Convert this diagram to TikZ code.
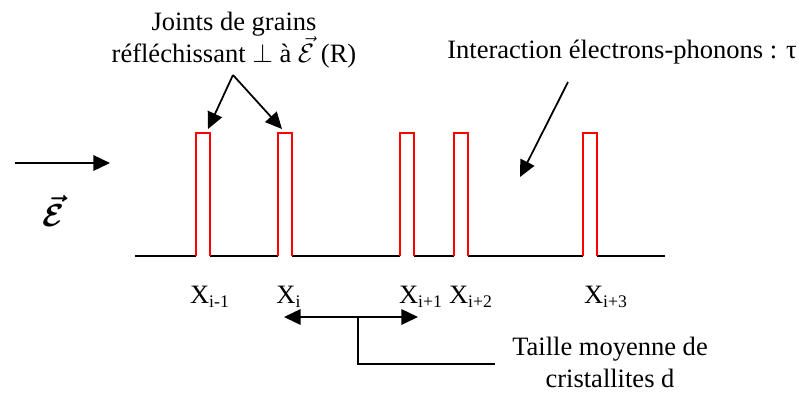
\documentclass[tikz,border=0pt]{standalone}
\usepackage{fontspec}
\setmainfont{Liberation Serif}
\usepackage{amsmath}
\usetikzlibrary{arrows.meta, positioning, calc}

\begin{document}
\begin{tikzpicture}[
  x=0.4525pt, y=-0.4525pt,
  every node/.style={font=\fontsize{12}{14.5}\selectfont, inner sep=1pt},
  %% ── Line styles ─────────────────────────────────────────────────────────
  base/.style={line width=0.9pt, black},
  pulse/.style={line width=0.85pt, red},
  %% ── Arrow styles ────────────────────────────────────────────────────────
  arr/.style={-{Triangle[length=7.5pt, width=7pt]}, line width=0.8pt},
  darr/.style={{Triangle[length=7.5pt, width=7pt]}-{Triangle[length=7.5pt, width=7pt]}, line width=0.8pt},
  lbl/.style={align=center},
  xlbl/.style={anchor=center},
]

\useasboundingbox (0,0) rectangle (799,392);

%% ═══════════════════════════════════════════════════════════════════════════
%% GRAIN PROFILE
%% ═══════════════════════════════════════════════════════════════════════════

\draw[base] (135,256) -- (196,256) (210,256) -- (278,256)
  (292,256) -- (400,256) (414,256) -- (454,256)
  (468,256) -- (583,256) (597,256) -- (665,256);

\foreach \px in {196,278,400,454,583}
  \draw[pulse] (\px,256) |- (\px+14,133) -- (\px+14,256);

\coordinate (Ga) at (208,129);
\coordinate (Gb) at (282,129);
\coordinate (Ph) at (520,177);

%% — Positions ───────────────────────────────────────────────────────────────
\node[xlbl] (X1) at (210,297) {X\textsubscript{i-1}};
\node[xlbl] (X2) at (289,297) {X\textsubscript{i}};
\node[xlbl] (X3) at (421,297) {X\textsubscript{i+1}};
\node[xlbl] (X4) at (471,297) {X\textsubscript{i+2}};
\node[xlbl] (X5) at (606,297) {X\textsubscript{i+3}};

%% ═══════════════════════════════════════════════════════════════════════════
%% FIELD
%% ═══════════════════════════════════════════════════════════════════════════

\coordinate (Fa) at (15,163);
\coordinate (Fb) at (110,163);
\draw[arr] (Fa) -- (Fb);

\node[font=\fontsize{15}{17}\selectfont] (eps) at (53,211)
  {$\boldsymbol{\vec{\mathcal{E}}}$};

%% ═══════════════════════════════════════════════════════════════════════════
%% LABELS
%% ═══════════════════════════════════════════════════════════════════════════

\node[lbl] (joints) at (234,40)
  {Joints de grains\\réfléchissant $\perp$ à $\vec{\mathcal{E}}$ (R)};
\coordinate (fork) at (233,75);
\draw[arr] (fork) -- (Ga);
\draw[arr] (fork) -- (Gb);

\node[lbl] (inter) at (622,52) {Interaction électrons-phonons : τ};
\coordinate (itail) at (568,82);
\draw[arr] (itail) -- (Ph);

%% — Mean size ───────────────────────────────────────────────────────────────
\coordinate (dl) at (284,317);
\coordinate (dr) at (418,317);
\coordinate (dm) at (358,317);
\draw[darr] (dl) -- (dr);

\node[lbl] (taille) at (610,362) {Taille moyenne de\\cristallites d};
\draw[base, line width=0.8pt] (dm) |- (495,364);

\end{tikzpicture}
\end{document}
